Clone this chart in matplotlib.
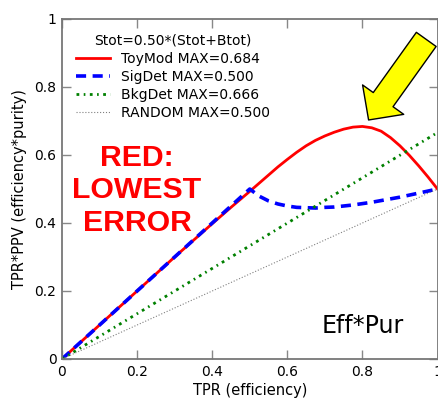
import matplotlib
matplotlib.use("Agg")
import matplotlib.pyplot as plt

# TPR (efficiency) grid and TPR*PPV for each classifier, prevalence 0.50
tpr = [0.0, 0.1, 0.2, 0.3, 0.4, 0.45, 0.5, 0.525, 0.55, 0.575, 0.6, 0.625,
       0.65, 0.675, 0.7, 0.725, 0.75, 0.775, 0.8, 0.825, 0.85, 0.875, 0.9,
       0.925, 0.95, 0.975, 1.0]
toymod = [0.0, 0.1, 0.2, 0.3, 0.398, 0.446, 0.493, 0.517, 0.541, 0.565,
          0.587, 0.608, 0.627, 0.643, 0.656, 0.667, 0.676, 0.682, 0.684,
          0.680, 0.670, 0.651, 0.627, 0.599, 0.568, 0.535, 0.500]
sigdet = [0.0, 0.1, 0.2, 0.3, 0.4, 0.45, 0.5, 0.479, 0.465, 0.456, 0.450,
          0.446, 0.445, 0.444, 0.446, 0.447, 0.450, 0.453, 0.457, 0.461,
          0.466, 0.471, 0.476, 0.482, 0.488, 0.494, 0.500]
line_tpr = [0.0, 1.0]
bkgdet = [0.0, 0.666]
random_ = [0.0, 0.5]

x_ticks = [0.0, 0.2, 0.4, 0.6, 0.8, 1.0]
x_ticklabels = ["0", "0.2", "0.4", "0.6", "0.8", "1"]

fig = plt.figure(figsize=(4.38, 4.0), dpi=100)
ax = fig.add_axes([62 / 438, 41 / 400, 375.5 / 438, 340 / 400])

ax.plot(tpr, toymod, color="red", lw=2.0,
        label=f"ToyMod MAX={max(toymod):.3f}")
ax.plot(tpr, sigdet, color="blue", lw=2.6, dashes=(2.8, 1.8),
        label=f"SigDet MAX={max(sigdet):.3f}")
ax.plot(line_tpr, bkgdet, color="green", lw=2.0, dashes=(1.0, 1.6, 0.6, 1.6),
        label=f"BkgDet MAX={max(bkgdet):.3f}")
ax.plot(line_tpr, random_, color="gray", lw=0.8, ls=":",
        label=f"RANDOM MAX={max(random_):.3f}")

ax.set_xlim(0, 1)
ax.set_ylim(0, 1)
ax.set_xticks(x_ticks)
ax.set_xticklabels(x_ticklabels)
ax.set_yticks(x_ticks)
ax.set_yticklabels(x_ticklabels)
ax.tick_params(direction="in", length=6.5, width=1, color="#888888",
               top=True, right=True, labelsize=10, pad=4)
for sp in ax.spines.values():
    sp.set_color("#777777")
    sp.set_linewidth(1.3)

ax.set_xlabel("TPR (efficiency)", fontsize=10.5, labelpad=3)
ax.set_ylabel("TPR*PPV (efficiency*purity)", fontsize=10.5, labelpad=5)

leg = ax.legend(title="Stot=0.50*(Stot+Btot)", loc="upper left",
                bbox_to_anchor=(0.005, 0.994), frameon=False, fontsize=10,
                title_fontsize=10, handlelength=2.4, handletextpad=0.8,
                labelspacing=0.3)

ax.text(0.2, 0.496, "RED:\nLOWEST\nERROR", color="red", fontsize=21.8,
        fontweight="bold", family="Liberation Sans", ha="center",
        va="center", linespacing=1.2)
ax.text(0.80, 0.0756, "Eff*Pur", fontsize=17, ha="center", va="baseline")

ax.annotate("", xy=(0.8165, 0.703), xytext=(0.970, 0.940),
            arrowprops=dict(facecolor="yellow", edgecolor="black",
                            width=17.5, headwidth=36.4, headlength=18,
                            shrink=0, linewidth=1),
            annotation_clip=False)

fig.savefig("out.png", dpi=100, facecolor="white")
